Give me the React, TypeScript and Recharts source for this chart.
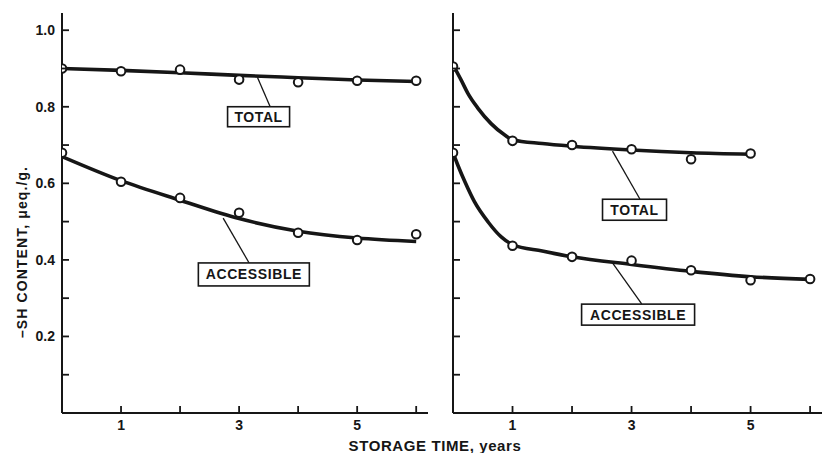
import React from 'react';
import { ComposedChart, Line, Scatter, XAxis, YAxis, ReferenceLine, ReferenceDot } from 'recharts';

// measured points, storage time in years
const YEARS = [0, 1, 2, 3, 4, 5, 6];
const leftTotal = [0.9, 0.893, 0.897, 0.871, 0.864, 0.868, 0.868];
const leftAccessible = [0.68, 0.604, 0.562, 0.523, 0.471, 0.452, 0.467];
const rightTotal = [0.905, 0.711, 0.7, 0.689, 0.663, 0.678];
const rightAccessible = [0.68, 0.437, 0.408, 0.398, 0.373, 0.347, 0.35];

// hand drawn fitted curves
const leftFitYears = [0, 1, 2, 3, 4, 5, 6];
const leftTotalFit = [0.9, 0.895, 0.889, 0.882, 0.876, 0.87, 0.866];
const leftAccessibleFit = [0.67, 0.607, 0.556, 0.508, 0.475, 0.457, 0.448];
const rightTotalFitYears = [0, 0.14, 0.25, 0.42, 0.64, 0.87, 1, 1.5, 2, 3, 4, 5];
const rightTotalFit = [0.91, 0.869, 0.835, 0.796, 0.756, 0.726, 0.714, 0.704, 0.697, 0.687, 0.68, 0.676];
const rightAccessibleFitYears = [0, 0.08, 0.2, 0.36, 0.59, 0.81, 1, 1.5, 2, 3, 4, 5, 6];
const rightAccessibleFit = [0.68, 0.648, 0.604, 0.552, 0.499, 0.46, 0.44, 0.423, 0.408, 0.388, 0.37, 0.356, 0.349];

const X_TICKS = [1, 2, 3, 4, 5, 6];
const X_LABELED = [1, 3, 5];
const Y_TICKS = [0.1, 0.2, 0.3, 0.4, 0.5, 0.6, 0.7, 0.8, 0.9, 1.0];
const Y_LABELED = [0.2, 0.4, 0.6, 0.8, 1.0];

const INK = '#161616';
const FONT = '"Liberation Sans", Arial, sans-serif';

const toPoints = (xs: number[], ys: number[]) => ys.map((y, i) => ({ x: xs[i], y }));

interface Callout {
  text: string;
  x: number;
  y: number;
  w: number;
  h: number;
  from: { x: number; y: number };
  to: { x: number; y: number };
}

const leftCallouts: Callout[] = [
  { text: 'TOTAL', x: 3.33, y: 0.774, w: 62, h: 20, from: { x: 3.31, y: 0.877 }, to: { x: 3.53, y: 0.799 } },
  { text: 'ACCESSIBLE', x: 3.25, y: 0.362, w: 111, h: 23, from: { x: 2.73, y: 0.509 }, to: { x: 3.17, y: 0.392 } },
];
const rightCallouts: Callout[] = [
  { text: 'TOTAL', x: 3.05, y: 0.531, w: 64, h: 21, from: { x: 2.68, y: 0.684 }, to: { x: 3.14, y: 0.559 } },
  { text: 'ACCESSIBLE', x: 3.11, y: 0.257, w: 113, h: 21, from: { x: 2.68, y: 0.392 }, to: { x: 3.17, y: 0.285 } },
];

const OpenCircle = (props: any) => (
  <circle cx={props.cx} cy={props.cy} r={4.3} fill="#fff" stroke={INK} strokeWidth={2} />
);

const YTick = ({ x, y, payload, showLabels }: any) => {
  const v = Number(payload.value);
  const labeled = showLabels && Y_LABELED.some((t) => Math.abs(t - v) < 1e-6);
  return (
    <g>
      <line x1={x} y1={y} x2={x + 7} y2={y} stroke={INK} strokeWidth={1.8} />
      {labeled && (
        <text x={x - 7} y={y + 5} textAnchor="end" fontSize={14} fontWeight="bold" fill={INK} fontFamily={FONT}>
          {v.toFixed(1)}
        </text>
      )}
    </g>
  );
};

const XTick = ({ x, y, payload }: any) => {
  const v = Number(payload.value);
  return (
    <g>
      <line x1={x} y1={y} x2={x} y2={y - 7} stroke={INK} strokeWidth={1.8} />
      {X_LABELED.includes(v) && (
        <text x={x} y={y + 17} textAnchor="middle" fontSize={14} fontWeight="bold" fill={INK} fontFamily={FONT}>
          {v}
        </text>
      )}
    </g>
  );
};

interface PanelProps {
  width: number;
  yAxisWidth: number;
  rightMargin: number;
  showYLabels: boolean;
  fits: { x: number; y: number }[][];
  points: { x: number; y: number }[][];
  callouts: Callout[];
}

function Panel({ width, yAxisWidth, rightMargin, showYLabels, fits, points, callouts }: PanelProps) {
  return (
    <ComposedChart width={width} height={453} margin={{ top: 13, right: rightMargin, bottom: 10, left: 0 }}>
      <XAxis
        type="number"
        dataKey="x"
        domain={[0, 6.2]}
        ticks={X_TICKS}
        interval={0}
        height={30}
        allowDataOverflow
        axisLine={{ stroke: INK, strokeWidth: 2 }}
        tickLine={false}
        tickSize={0}
        tickMargin={0}
        tick={<XTick />}
      />
      <YAxis
        type="number"
        dataKey="y"
        domain={[0, 1.045]}
        ticks={Y_TICKS}
        interval={0}
        width={yAxisWidth}
        allowDataOverflow
        axisLine={{ stroke: INK, strokeWidth: 2 }}
        tickLine={false}
        tickSize={0}
        tickMargin={0}
        tick={<YTick showLabels={showYLabels} />}
      />
      {callouts.map((c, i) => (
        <ReferenceLine key={'l' + i} segment={[c.from, c.to]} stroke={INK} strokeWidth={1.3} />
      ))}
      {fits.map((f, i) => (
        <Line
          key={'f' + i}
          data={f}
          dataKey="y"
          type="monotone"
          stroke={INK}
          strokeWidth={3.6}
          dot={false}
          activeDot={false}
          isAnimationActive={false}
        />
      ))}
      {points.map((p, i) => (
        <Scatter key={'p' + i} data={p} dataKey="y" shape={OpenCircle} isAnimationActive={false} />
      ))}
      {callouts.map((c, i) => (
        <ReferenceDot
          key={'b' + i}
          x={c.x}
          y={c.y}
          r={0}
          shape={(p: any) => (
            <g>
              <rect x={p.cx - c.w / 2} y={p.cy - c.h / 2} width={c.w} height={c.h} fill="#fff" stroke={INK} strokeWidth={1.6} />
              <text x={p.cx} y={p.cy + 5} textAnchor="middle" fontSize={14} fontWeight="bold" letterSpacing={0.6} fill={INK} fontFamily={FONT}>
                {c.text}
              </text>
            </g>
          )}
        />
      ))}
    </ComposedChart>
  );
}

export default function App() {
  return (
    <div style={{ position: 'absolute', left: 0, top: 0, width: 822, height: 453, background: '#fff', overflow: 'hidden', fontFamily: FONT, fontWeight: 'bold' }}>
      <div style={{ position: 'absolute', left: 0, top: 0 }}>
        <Panel
          width={440}
          yAxisWidth={62}
          rightMargin={12}
          showYLabels
          fits={[toPoints(leftFitYears, leftTotalFit), toPoints(leftFitYears, leftAccessibleFit)]}
          points={[toPoints(YEARS, leftTotal), toPoints(YEARS, leftAccessible)]}
          callouts={leftCallouts}
        />
      </div>
      <div style={{ position: 'absolute', left: 440, top: 0 }}>
        <Panel
          width={382}
          yAxisWidth={13}
          rightMargin={0}
          showYLabels={false}
          fits={[toPoints(rightTotalFitYears, rightTotalFit), toPoints(rightAccessibleFitYears, rightAccessibleFit)]}
          points={[toPoints(YEARS, rightTotal), toPoints(YEARS, rightAccessible)]}
          callouts={rightCallouts}
        />
      </div>
      <div
        style={{
          position: 'absolute',
          left: 22,
          top: 252,
          transform: 'translate(-50%, -50%) rotate(-90deg)',
          whiteSpace: 'nowrap',
          fontSize: 14,
          letterSpacing: 1.1,
          color: INK,
        }}
      >
        –SH CONTENT, μeq./g.
      </div>
      <div
        style={{
          position: 'absolute',
          left: 435,
          top: 438,
          transform: 'translateX(-50%)',
          whiteSpace: 'nowrap',
          fontSize: 15,
          lineHeight: '15px',
          letterSpacing: 0.6,
          color: INK,
        }}
      >
        STORAGE TIME, years
      </div>
    </div>
  );
}
